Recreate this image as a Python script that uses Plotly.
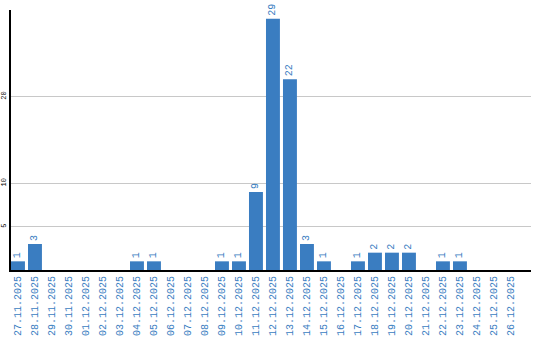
import plotly.graph_objects as go

dates = ["27.11.2025","28.11.2025","29.11.2025","30.11.2025","01.12.2025","02.12.2025",
         "03.12.2025","04.12.2025","05.12.2025","06.12.2025","07.12.2025","08.12.2025",
         "09.12.2025","10.12.2025","11.12.2025","12.12.2025","13.12.2025","14.12.2025",
         "15.12.2025","16.12.2025","17.12.2025","18.12.2025","19.12.2025","20.12.2025",
         "21.12.2025","22.12.2025","23.12.2025","24.12.2025","25.12.2025","26.12.2025"]
counts = [1,3,0,0,0,0,0,1,1,0,0,0,1,1,9,29,22,3,1,0,1,2,2,2,0,1,1,0,0,0]
ytick_vals = [5, 10, 20]

blue = "#3a7dc1"
labels = [str(c) if c > 0 else "" for c in counts]

fig = go.Figure(go.Bar(
    x=dates, y=counts, text=labels, textposition="outside", textangle=-90,
    textfont=dict(family="Liberation Mono", size=10, color=blue),
    marker=dict(color=blue, line=dict(width=0)), cliponaxis=False, width=0.82,
))
fig.update_layout(
    width=540, height=340, margin=dict(l=11, r=9, t=10, b=70),
    plot_bgcolor="white", paper_bgcolor="white", showlegend=False,
)
fig.update_xaxes(type="category", tickangle=-90, showgrid=False, automargin=False,
                 range=[-0.41, 30.18],
                 tickfont=dict(family="Liberation Mono", size=10, color=blue),
                 showline=True, linecolor="black", linewidth=2, ticks="")
fig.update_yaxes(range=[0, 30], tickvals=ytick_vals, tickangle=-90, automargin=False,
                 tickfont=dict(family="Liberation Mono", size=7, color="black"),
                 showgrid=True, gridcolor="#c8c8c8", gridwidth=1, ticklabelstandoff=0,
                 showline=True, linecolor="black", linewidth=2, zeroline=False, ticks="")
fig.write_html("out.html")
